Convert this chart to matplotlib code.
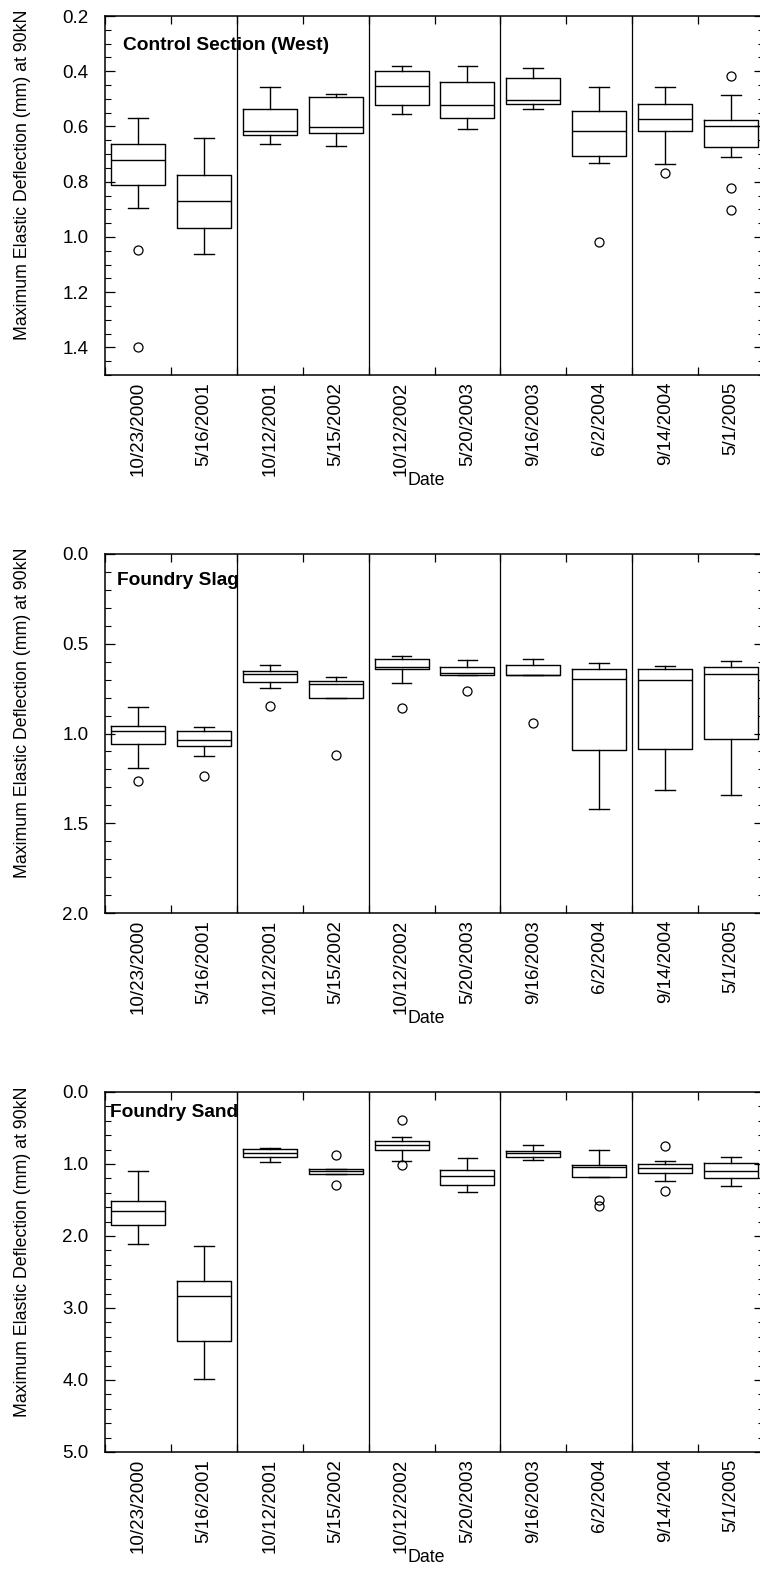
import matplotlib
matplotlib.use("Agg")
import matplotlib.pyplot as plt
from matplotlib.ticker import MultipleLocator, FormatStrFormatter

plt.rcParams['font.family'] = ['Liberation Sans', 'DejaVu Sans']

dates = ["10/23/2000", "5/16/2001", "10/12/2001", "5/15/2002", "10/12/2002",
         "5/20/2003", "9/16/2003", "6/2/2004", "9/14/2004", "5/1/2005"]

# Control Section (West)
ctrl_whislo = [0.570, 0.643, 0.456, 0.481, 0.380, 0.380, 0.389, 0.458, 0.456, 0.486]
ctrl_q1     = [0.664, 0.776, 0.538, 0.494, 0.399, 0.440, 0.426, 0.543, 0.518, 0.576]
ctrl_med    = [0.721, 0.871, 0.618, 0.603, 0.452, 0.524, 0.503, 0.617, 0.573, 0.599]
ctrl_q3     = [0.811, 0.968, 0.632, 0.623, 0.521, 0.569, 0.517, 0.707, 0.617, 0.674]
ctrl_whishi = [0.895, 1.062, 0.662, 0.670, 0.556, 0.609, 0.535, 0.733, 0.737, 0.709]
ctrl_fliers = [[1.049, 1.400], [], [], [], [], [], [], [1.020], [0.767], [0.418, 0.824, 0.904]]

# Foundry Slag
slag_whislo = [0.855, 0.965, 0.618, 0.683, 0.568, 0.588, 0.584, 0.609, 0.622, 0.594]
slag_q1     = [0.961, 0.987, 0.653, 0.707, 0.584, 0.627, 0.616, 0.642, 0.642, 0.631]
slag_med    = [0.987, 1.037, 0.668, 0.727, 0.627, 0.664, 0.675, 0.698, 0.701, 0.668]
slag_q3     = [1.059, 1.067, 0.711, 0.803, 0.640, 0.673, 0.675, 1.091, 1.085, 1.030]
slag_whishi = [1.193, 1.126, 0.748, 0.803, 0.720, 0.673, 0.675, 1.419, 1.312, 1.341]
slag_fliers = [[1.267], [1.237], [0.846], [1.117], [0.859], [0.766], [0.941], [], [], []]

# Foundry Sand
sand_whislo = [1.093, 2.139, 0.778, 1.065, 0.630, 0.917, 0.741, 0.806, 0.954, 0.903]
sand_q1     = [1.514, 2.620, 0.792, 1.065, 0.676, 1.083, 0.815, 1.009, 1.005, 0.991]
sand_med    = [1.653, 2.833, 0.843, 1.097, 0.741, 1.162, 0.852, 1.046, 1.060, 1.093]
sand_q3     = [1.852, 3.454, 0.903, 1.144, 0.806, 1.287, 0.898, 1.181, 1.120, 1.190]
sand_whishi = [2.111, 3.991, 0.977, 1.144, 0.958, 1.394, 0.940, 1.181, 1.231, 1.310]
sand_fliers = [[], [], [], [0.870, 1.287], [0.384, 1.014], [], [], [1.500, 1.583], [0.750, 1.370], []]

panels = [
    dict(title="Control Section (West)", lo=ctrl_whislo, q1=ctrl_q1, med=ctrl_med, q3=ctrl_q3,
         hi=ctrl_whishi, fl=ctrl_fliers, ylim=(1.5, 0.2), major=0.2, minor=0.05,
         top=16, bottom=375, tx=0.027, ty=0.919),
    dict(title="Foundry Slag", lo=slag_whislo, q1=slag_q1, med=slag_med, q3=slag_q3,
         hi=slag_whishi, fl=slag_fliers, ylim=(2.0, 0.0), major=0.5, minor=0.1,
         top=554, bottom=913, tx=0.018, ty=0.925),
    dict(title="Foundry Sand", lo=sand_whislo, q1=sand_q1, med=sand_med, q3=sand_q3,
         hi=sand_whishi, fl=sand_fliers, ylim=(5.0, 0.0), major=1.0, minor=0.2,
         top=1092, bottom=1452, tx=0.008, ty=0.944),
]

W, H = 760, 1571
fig = plt.figure(figsize=(W / 100, H / 100), dpi=100)
left_px, right_px = 105, 764
TICK_FS = 13.5
LABEL_FS = 12.8
TITLE_FS = 13.8

for p in panels:
    ax = fig.add_axes([left_px / W, 1 - p['bottom'] / H, (right_px - left_px) / W,
                       (p['bottom'] - p['top']) / H])
    stats = []
    for i in range(len(dates)):
        stats.append(dict(whislo=p['lo'][i], q1=p['q1'][i], med=p['med'][i],
                          q3=p['q3'][i], whishi=p['hi'][i], fliers=p['fl'][i]))
    positions = [i + 0.5 for i in range(len(dates))]
    lp = dict(color='black', linewidth=1.0)
    ax.bxp(stats, positions=positions, widths=0.82, capwidths=0.3,
           boxprops=lp, whiskerprops=lp, capprops=lp,
           medianprops=dict(color='black', linewidth=1.0),
           flierprops=dict(marker='o', markerfacecolor='none', markeredgecolor='black',
                           markersize=6.5, markeredgewidth=0.9),
           manage_ticks=False)
    for xv in (2, 4, 6, 8):
        ax.axvline(xv, color='black', linewidth=0.9)
    ax.set_xlim(0, 10)
    ax.set_ylim(*p['ylim'])
    ax.yaxis.set_major_locator(MultipleLocator(p['major']))
    ax.yaxis.set_minor_locator(MultipleLocator(p['minor']))
    ax.yaxis.set_major_formatter(FormatStrFormatter('%.1f'))
    ax.set_xticks(range(0, 11))
    ax.set_xticklabels([])
    ax.set_xticks(positions, dates, minor=True)
    ax.tick_params(axis='x', which='major', direction='in', length=6, width=0.9,
                   top=True, bottom=True)
    ax.tick_params(axis='x', which='minor', length=0, labelrotation=90, pad=5,
                   labelsize=TICK_FS)
    ax.tick_params(axis='y', which='major', direction='in', length=7, width=0.9,
                   left=True, right=True, labelsize=TICK_FS, pad=12)
    ax.tick_params(axis='y', which='minor', direction='in', length=4, width=0.8,
                   left=True, right=True)
    for s in ax.spines.values():
        s.set_linewidth(1.1)
    ax.set_ylabel("Maximum Elastic Deflection (mm) at 90kN", fontsize=LABEL_FS)
    ax.yaxis.set_label_coords(-0.112, 0.557)
    ax.set_xlabel("Date", fontsize=LABEL_FS)
    ax.xaxis.set_label_coords(0.488, -97 / 359)
    ax.text(p['tx'], p['ty'], p['title'], transform=ax.transAxes, fontsize=TITLE_FS,
            fontweight='bold', ha='left', va='center')

fig.savefig("out.png", dpi=100)
